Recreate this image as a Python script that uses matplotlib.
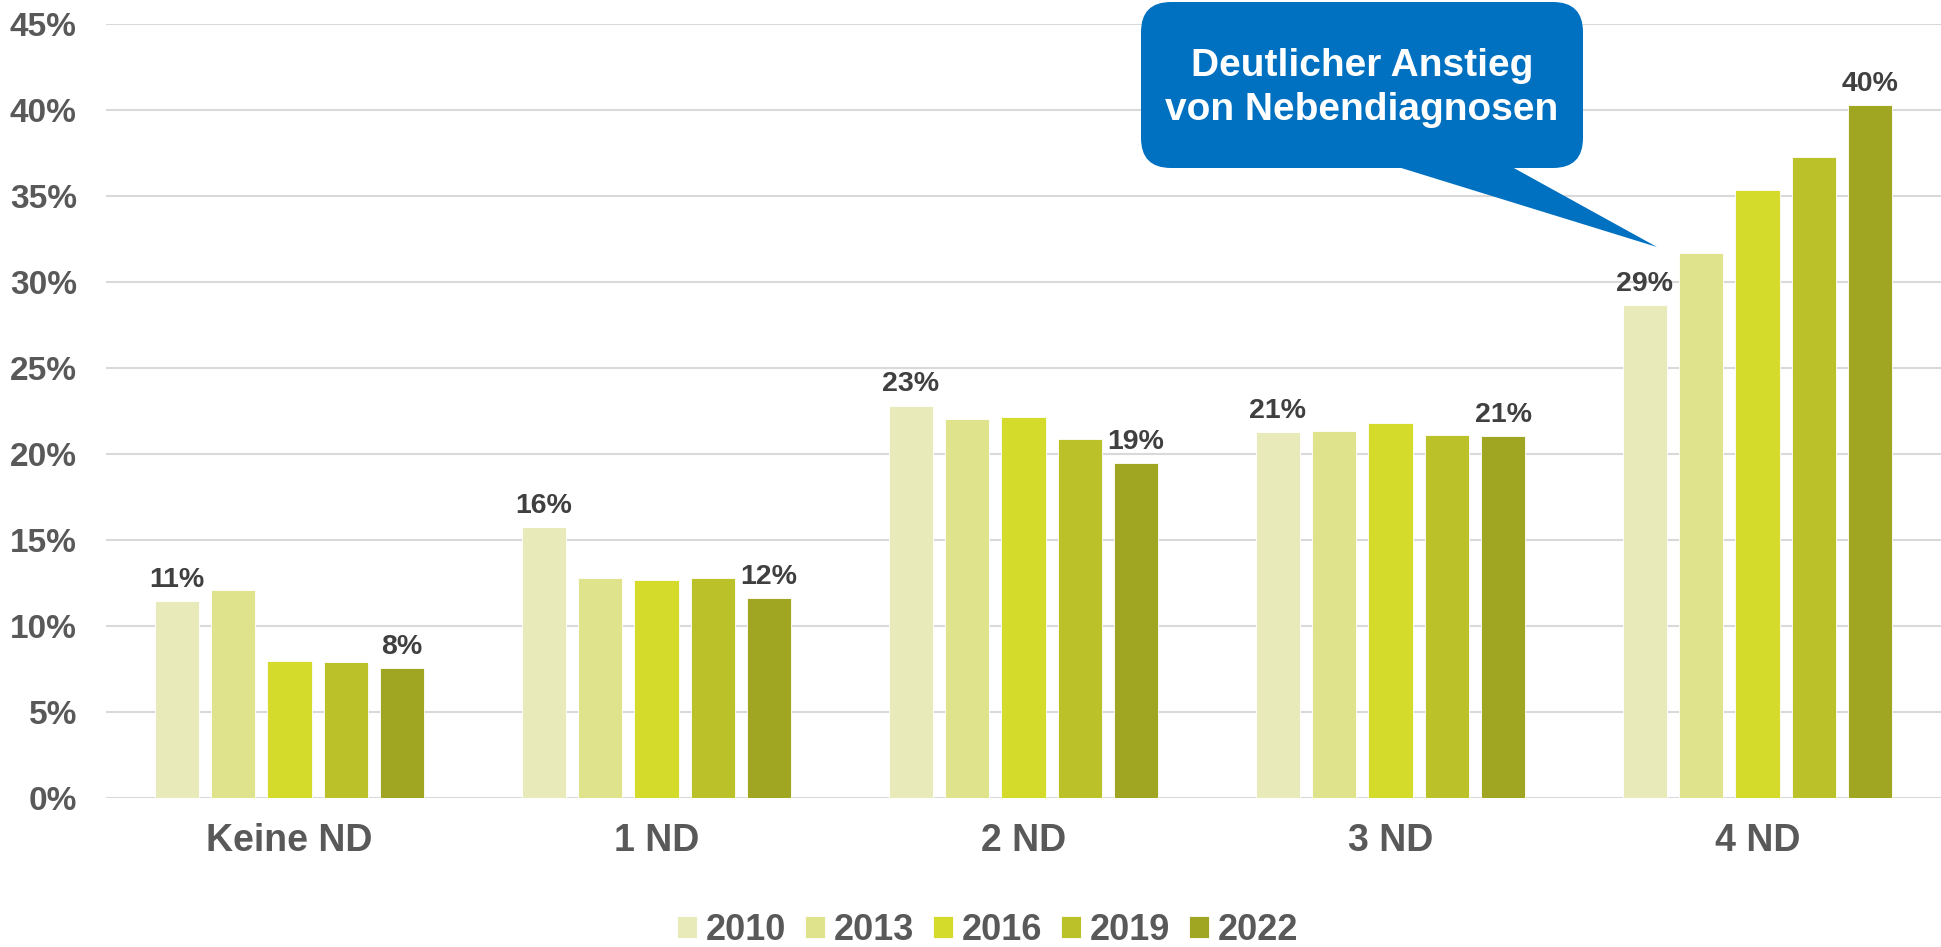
import matplotlib
matplotlib.use("Agg")
import matplotlib.pyplot as plt
import matplotlib.patches as mpatches
from matplotlib.transforms import IdentityTransform
from matplotlib.ticker import FuncFormatter
import numpy as np

categories = ["Keine ND", "1 ND", "2 ND", "3 ND", "4 ND"]
years = ["2010", "2013", "2016", "2019", "2022"]
values = {
    "2010": [11.45, 15.76, 22.81, 21.28, 28.65],
    "2013": [12.09, 12.79, 22.05, 21.34, 31.67],
    "2016": [7.97, 12.67, 22.17, 21.78, 35.35],
    "2019": [7.92, 12.79, 20.85, 21.10, 37.27],
    "2022": [7.56, 11.61, 19.48, 21.03, 40.29],
}
colors = ["#E8EBB9", "#DFE38C", "#D4DB2A", "#BBC229", "#A1A622"]
# which bars carry a value label (first/last of each group)
labelled = {"2010": True, "2022": True}
callout_text = "Deutlicher Anstieg\nvon Nebendiagnosen"

plt.rcParams["font.family"] = ["Liberation Sans", "DejaVu Sans"]
plt.rcParams["font.weight"] = "bold"

W, H = 1941, 947
fig = plt.figure(figsize=(W / 100, H / 100), dpi=100)
ax = fig.add_axes([106 / W, 1 - 798 / H, 1 - 106 / W, (798 - 24) / H])

x = np.arange(len(categories))
step = 0.1535
width = 0.12
for i, yr in enumerate(years):
    pos = x + (i - 2) * step
    bars = ax.bar(pos, values[yr], width, color=colors[i], label=yr,
                  edgecolor="white", linewidth=0.6, zorder=2)
    if yr in labelled:
        for b, v in zip(bars, values[yr]):
            ax.annotate("%d%%" % round(v), (b.get_x() + b.get_width() / 2, v),
                        xytext=(0, 6), textcoords="offset points",
                        ha="center", va="bottom", fontsize=20.5,
                        fontweight="bold", color="#404040")

ax.set_xlim(-0.5, 4.5)
ax.set_ylim(0, 45)
ax.set_yticks(np.arange(0, 46, 5))
ax.yaxis.set_major_formatter(FuncFormatter(lambda v, p: "%d%%" % v))
ax.set_xticks(x)
ax.set_xticklabels(categories)
ax.tick_params(axis="y", length=0, pad=21, labelsize=24, labelcolor="#595959")
ax.tick_params(axis="x", length=0, pad=18, labelsize=27, labelcolor="#595959")
ax.grid(axis="y", color="#D9D9D9", linewidth=1.5, zorder=0)
ax.set_axisbelow(True)
for s in ax.spines.values():
    s.set_visible(False)

leg = fig.legend(loc="center", bbox_to_anchor=(988 / W, 1 - 930 / H), ncol=5,
                 frameon=False, fontsize=26, handlelength=0.55,
                 handleheight=0.55, handletextpad=0.25, columnspacing=0.52,
                 borderaxespad=0)
for t in leg.get_texts():
    t.set_color("#595959")

# callout bubble (pixel coordinates, origin bottom-left)
blue = "#0070C0"
bx0, by0, bx1, by1 = 1141, H - 168, 1583, H - 2
box = mpatches.FancyBboxPatch((bx0, by0), bx1 - bx0, by1 - by0,
                              boxstyle="round,pad=0,rounding_size=30",
                              transform=IdentityTransform(), facecolor=blue,
                              edgecolor="none", zorder=5)
fig.add_artist(box)
tail = mpatches.Polygon([(1398, H - 167), (1512, H - 167), (1657, H - 247)],
                        closed=True, transform=IdentityTransform(),
                        facecolor=blue, edgecolor="none", zorder=5)
fig.add_artist(tail)
fig.text(1362 / W, 1 - 88 / H, callout_text, ha="center", va="center",
         fontsize=28, fontweight="bold", color="white", linespacing=1.25,
         zorder=6)

fig.savefig("out.png", dpi=100)
